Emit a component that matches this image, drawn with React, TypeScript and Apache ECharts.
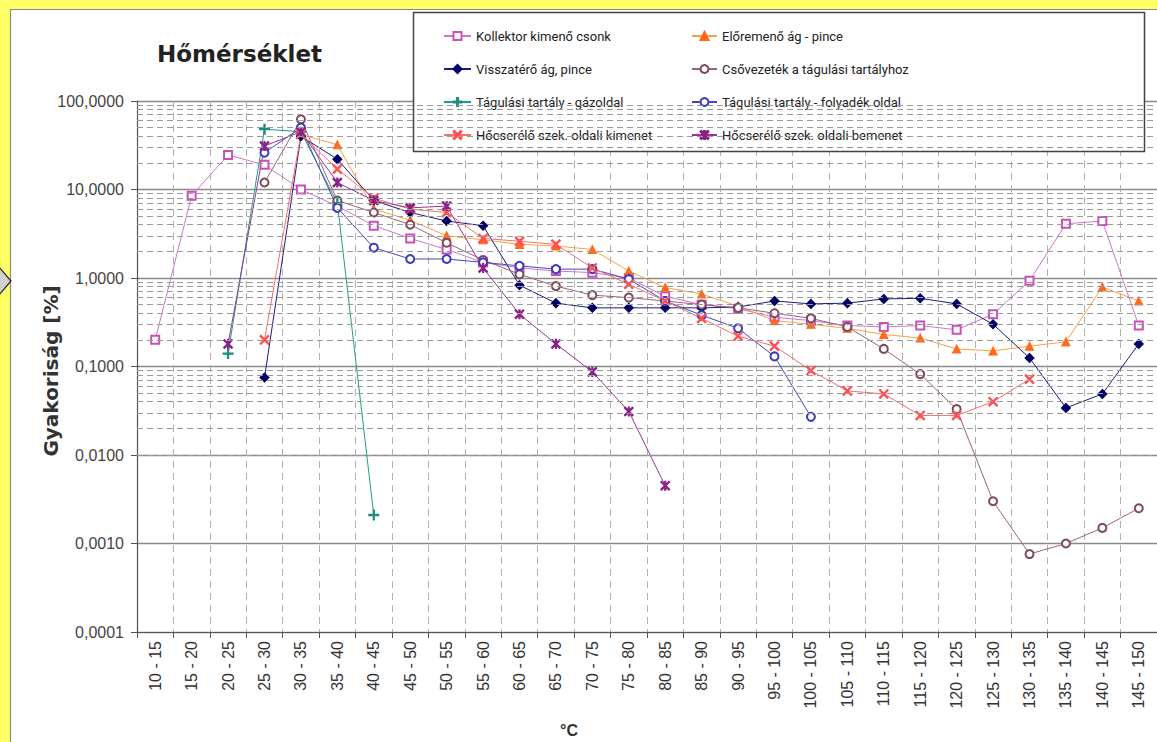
import React, { useEffect, useRef } from "react";
import * as echarts from "echarts";

const categories = [
  "10 - 15", "15 - 20", "20 - 25", "25 - 30", "30 - 35", "35 - 40", "40 - 45",
  "45 - 50", "50 - 55", "55 - 60", "60 - 65", "65 - 70", "70 - 75", "75 - 80",
  "80 - 85", "85 - 90", "90 - 95", "95 - 100", "100 - 105", "105 - 110",
  "110 - 115", "115 - 120", "120 - 125", "125 - 130", "130 - 135", "135 - 140",
  "140 - 145", "145 - 150",
];

const yTickLabels = ["0,0001", "0,0010", "0,0100", "0,1000", "1,0000", "10,0000", "100,0000"];
const decades = [0.0001, 0.001, 0.01, 0.1, 1, 10];
const minorSteps = [2, 3, 4, 5, 6, 7, 8, 9];

const kollektor = [0.2, 8.5, 24.5, 19, 10, 6.5, 3.9, 2.8, 2.1, 1.5, 1.3, 1.2, 1.15, 1.0, 0.62, 0.5, 0.45, 0.36, 0.33, 0.29, 0.28, 0.29, 0.26, 0.39, 0.93, 4.1, 4.4, 0.29];
const eloremeno = [null, null, null, null, 42, 32, 6, 4.5, 3.0, 2.7, 2.4, 2.3, 2.1, 1.2, 0.78, 0.66, 0.48, 0.33, 0.3, 0.27, 0.23, 0.21, 0.158, 0.15, 0.17, 0.19, 0.79, 0.55];
const visszatero = [null, null, null, 0.075, 40, 22, 7.5, 5.5, 4.4, 3.9, 0.83, 0.52, 0.46, 0.46, 0.46, 0.46, 0.47, 0.55, 0.51, 0.52, 0.58, 0.59, 0.51, 0.3, 0.125, 0.034, 0.049, 0.18];
const csovezetek = [null, null, null, 12, 62, 7.5, 5.5, 4.0, 2.5, 1.6, 1.1, 0.81, 0.64, 0.6, 0.55, 0.5, 0.46, 0.4, 0.35, 0.28, 0.158, 0.082, 0.033, 0.003, 0.00076, 0.001, 0.0015, 0.0025];
const gazoldal = [null, null, 0.14, 48, 45, 7, 0.0021, null, null, null, null, null, null, null, null, null, null, null, null, null, null, null, null, null, null, null, null, null];
const folyadek = [null, null, null, 26, 50, 6.2, 2.2, 1.64, 1.64, 1.5, 1.37, 1.26, 1.26, 0.97, 0.55, 0.38, 0.27, 0.13, 0.027, null, null, null, null, null, null, null, null, null];
const kimenet = [null, null, null, 0.2, 42, 17, 8, 6, 5.5, 2.8, 2.6, 2.4, 1.3, 0.85, 0.55, 0.35, 0.22, 0.17, 0.09, 0.053, 0.049, 0.028, 0.028, 0.04, 0.072, null, null, null];
const bemenet = [null, null, 0.18, 31, 45, 12, 7.5, 6.2, 6.5, 1.3, 0.39, 0.18, 0.087, 0.031, 0.0045, null, null, null, null, null, null, null, null, null, null, null, null, null];

const names = [
  "Kollektor kimenő csonk",
  "Előremenő ág - pince",
  "Visszatérő ág, pince",
  "Csővezeték a tágulási tartályhoz",
  "Tágulási tartály - gázoldal",
  "Tágulási tartály - folyadék oldal",
  "Hőcserélő szek. oldali kimenet",
  "Hőcserélő szek. oldali bemenet",
];

const symX = "path://M0,1L1,0L5,4L9,0L10,1L6,5L10,9L9,10L5,6L1,10L0,9L4,5Z";
const symStar = "path://M0,1L1,0L5,4L9,0L10,1L6,5L10,9L9,10L5,6L1,10L0,9L4,5Z M4.4,0L5.6,0L5.6,10L4.4,10Z";
const symPlus = "path://M4.4,0L5.6,0L5.6,4.4L10,4.4L10,5.6L5.6,5.6L5.6,10L4.4,10L4.4,5.6L0,5.6L0,4.4L4.4,4.4Z";

function mk(name: string, data: (number | null)[], line: string, marker: string, symbol: string, size: number) {
  return {
    type: "line",
    name,
    data,
    symbol,
    symbolSize: size,
    showSymbol: true,
    showAllSymbol: true,
    connectNulls: false,
    z: 3,
    lineStyle: { color: line, width: 1 },
    itemStyle: { color: marker, borderColor: marker, borderWidth: 1.1 },
    emphasis: { disabled: true },
  };
}

export default function App() {
  const ref = useRef<HTMLDivElement>(null);
  useEffect(() => {
    document.body.style.margin = "0";
    const chart = echarts.init(ref.current!, null, { renderer: "svg" });
    const minorValues: number[] = [];
    decades.forEach((d) => minorSteps.forEach((s) => minorValues.push(d * s)));

    const legendText = { fontFamily: "Roboto", fontSize: 13, color: "#222", lineHeight: 14 };
    const legendCommon = {
      orient: "vertical",
      top: 29,
      itemHeight: 10,
      itemGap: 19,
      padding: 0,
      selectedMode: false,
      textStyle: legendText,
      z: 5,
    };
    const option: any = {
      animation: false,
      backgroundColor: "#FFFF66",
      title: {
        text: "Hőmérséklet",
        left: 157,
        top: 42,
        padding: 0,
        textStyle: { fontFamily: "DejaVu Sans", fontWeight: "bold", fontSize: 23, color: "#222" },
      },
      legend: [
        { ...legendCommon, data: [names[0], names[2], names[4], names[6]], left: 443, itemWidth: 27 },
        { ...legendCommon, data: [names[1], names[3], names[5], names[7]], left: 691, itemWidth: 25 },
      ],
      grid: { left: 137, top: 101, width: 1022, height: 531, containLabel: false },
      xAxis: {
        type: "category",
        data: categories,
        boundaryGap: true,
        axisLine: { lineStyle: { color: "#555", width: 1.2 } },
        axisTick: { show: true, length: 6, interval: 0, lineStyle: { color: "#555" } },
        axisLabel: {
          interval: 0,
          rotate: 90,
          margin: 9,
          fontFamily: "Liberation Sans",
          fontSize: 16,
          color: "#333",
        },
        splitLine: { show: true, interval: 0, lineStyle: { color: "#b0b0b0", type: [7, 5], width: 1 } },
      },
      yAxis: {
        type: "log",
        logBase: 10,
        min: 0.0001,
        max: 100,
        splitNumber: 6,
        axisLine: { show: true, lineStyle: { color: "#555", width: 1.2 } },
        axisTick: { show: true, length: 6, lineStyle: { color: "#555" } },
        axisLabel: {
          margin: 13,
          fontFamily: "Liberation Sans",
          fontSize: 16,
          color: "#444",
          formatter: (v: number) => yTickLabels[Math.round(Math.log10(v)) + 4] ?? "",
        },
        splitLine: { show: true, lineStyle: { color: "#8a8a8a", width: 1.3 } },
      },
      graphic: [
        {
          type: "rect",
          z: -100,
          shape: { x: 10.5, y: 9.5, width: 1170, height: 750 },
          style: { fill: "#ffffff", stroke: "#8a8a8a", lineWidth: 1.2 },
          silent: true,
        },
        {
          type: "polygon",
          z: 10,
          shape: { points: [[-1, 267], [11, 281], [-1, 295]] },
          style: { fill: "#d0d0d0", stroke: "#222", lineWidth: 1.2 },
          silent: true,
        },
        {
          type: "rect",
          z: 4,
          shape: { x: 413.5, y: 12.5, width: 731, height: 139 },
          style: { fill: "#ffffff", stroke: "#444", lineWidth: 1.5 },
          silent: true,
        },
        {
          type: "text",
          z: 10,
          x: 51,
          y: 371,
          rotation: Math.PI / 2,
          style: {
            text: "Gyakoriság [%]",
            fontFamily: "DejaVu Sans",
            fontWeight: "bold",
            fontSize: 20,
            fill: "#333",
            align: "center",
            verticalAlign: "middle",
          },
          silent: true,
        },
        {
          type: "text",
          z: 10,
          x: 569,
          y: 730,
          style: {
            text: "°C",
            fontFamily: "Liberation Sans",
            fontWeight: "bold",
            fontSize: 16,
            fill: "#333",
            align: "center",
            verticalAlign: "middle",
          },
          silent: true,
        },
      ],
      series: [
        {
          type: "line",
          name: "__minor",
          data: categories.map(() => null),
          silent: true,
          z: 1,
          showSymbol: false,
          markLine: {
            silent: true,
            symbol: ["none", "none"],
            label: { show: false },
            lineStyle: { color: "#9a9a9a", type: [6, 4], width: 1 },
            emphasis: { disabled: true },
            data: minorValues.map((v) => ({ yAxis: v })),
          },
        },
        mk(names[0], kollektor, "#CC77CC", "#C850B8", "emptyRect", 8),
        mk(names[1], eloremeno, "#FFA040", "#FF6A1A", "triangle", 8),
        mk(names[2], visszatero, "#1A1A80", "#000066", "diamond", 9),
        mk(names[3], csovezetek, "#9A6478", "#7E4A5E", "emptyCircle", 8),
        mk(names[4], gazoldal, "#1E9E8A", "#1E8E7A", symPlus, 10),
        mk(names[5], folyadek, "#4646C4", "#3C3CC0", "emptyCircle", 8),
        mk(names[6], kimenet, "#FF6A6A", "#FF5050", symX, 9),
        mk(names[7], bemenet, "#993399", "#882288", symStar, 9),
      ],
    };
    chart.setOption(option);
    return () => chart.dispose();
  }, []);
  return <div ref={ref} style={{ width: 1157, height: 742 }} />;
}
